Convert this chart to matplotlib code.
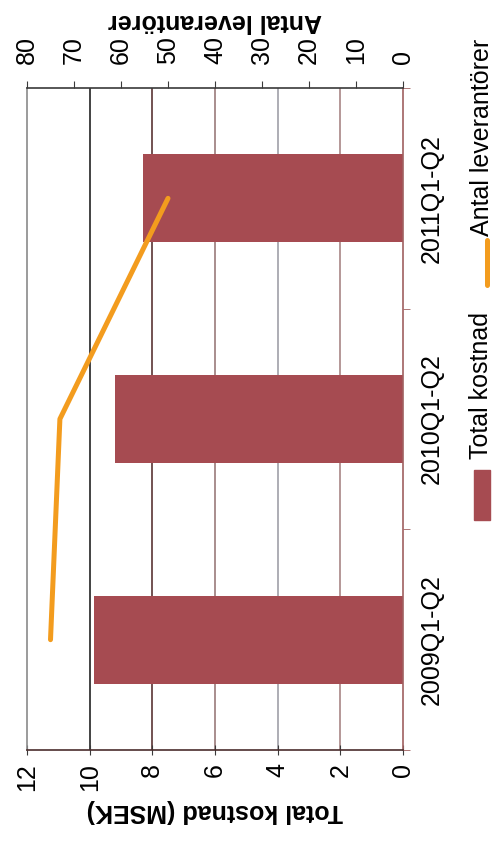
import matplotlib
matplotlib.use('Agg')
import matplotlib.pyplot as plt
from matplotlib.patches import Rectangle
from matplotlib.lines import Line2D

# Data
perioder = ['2009Q1-Q2', '2010Q1-Q2', '2011Q1-Q2']
total_kostnad = [9.85, 9.2, 8.3]          # MSEK
antal_leverantorer = [75, 73, 50]
kostnad_ticks = [0, 2, 4, 6, 8, 10, 12]
leverantor_ticks = [0, 10, 20, 30, 40, 50, 60, 70, 80]

plt.rcParams['font.family'] = ['Liberation Sans', 'DejaVu Sans']

BAR_COLOR = '#a64b51'
LINE_COLOR = '#f39c1e'

W, H = 495, 847
fig = plt.figure(figsize=(W / 100, H / 100), dpi=100)
fig.patch.set_facecolor('white')

# Chart turned on its side: cost runs right-to-left, periods bottom-to-top
ax = fig.add_axes([27 / W, (H - 750) / H, (403 - 27) / W, (750 - 88) / H])
pos = list(range(len(perioder)))
ax.barh(pos, total_kostnad, height=0.4, color=BAR_COLOR, zorder=2)

ax.set_xlim(12, 0)
ax.set_ylim(-0.5, 2.5)
ax.set_xticks(kostnad_ticks)
ax.set_xticklabels([str(t) for t in kostnad_ticks], rotation=90, fontsize=18)
ax.tick_params(axis='x', direction='inout', length=7, pad=6, color='#3a3a3a')

ax.yaxis.tick_right()
ax.set_yticks(pos)
ax.set_yticklabels(perioder, rotation=90, va='center', fontsize=18)
ax.set_yticks([-0.5, 0.5, 1.5, 2.5], minor=True)
ax.tick_params(axis='y', which='major', length=0, pad=12)
ax.tick_params(axis='y', which='minor', length=5, direction='out', color='#a06060')

ax.set_xlabel('Total kostnad (MSEK)', rotation=180, fontsize=18,
              fontweight='bold', labelpad=6)

# Vertical gridlines
ax.grid(axis='x', linewidth=1.2, zorder=1)
grid_colors = ['none', '#a88585', '#a0a0a8', '#9a7a7a', '#5a3535', '#222222', 'none']
for gl, c in zip(ax.get_xgridlines(), grid_colors):
    gl.set_color(c)
ax.set_axisbelow(True)

ax.spines['left'].set_color('#8a8a8a')
ax.spines['bottom'].set_color('#4a2c2c')
ax.spines['right'].set_color('#a06060')
ax.spines['top'].set_visible(False)
for s in ax.spines.values():
    s.set_linewidth(1.2)

# Secondary axis for number of suppliers
ax2 = ax.twiny()
ax2.plot(antal_leverantorer, pos, color=LINE_COLOR, lw=3.6,
         solid_capstyle='round', zorder=3)
ax2.set_xlim(80, 0)
ax2.set_xticks(leverantor_ticks)
ax2.set_xticklabels([str(t) for t in leverantor_ticks], rotation=90, fontsize=18)
ax2.tick_params(axis='x', direction='out', length=5, pad=12, color='#3a3a3a')
ax2.set_xlabel('Antal leverantörer', rotation=180, fontsize=18,
               fontweight='bold', labelpad=6)
for side in ('left', 'right', 'bottom'):
    ax2.spines[side].set_visible(False)
ax2.spines['top'].set_color('#3a3a3a')
ax2.spines['top'].set_linewidth(1.2)

# Legend, laid out along the right edge
def fx(px):
    return px / W

def fy(py):
    return (H - py) / H

fig.patches.append(Rectangle((fx(474), fy(520)), fx(16), 50 / H,
                             transform=fig.transFigure, color=BAR_COLOR))
fig.text(fx(481), fy(385), 'Total kostnad', rotation=90, fontsize=18,
         ha='center', va='center')
fig.lines.append(Line2D([fx(487), fx(487)], [fy(285), fy(240)],
                        transform=fig.transFigure, color=LINE_COLOR, lw=3.6,
                        solid_capstyle='round'))
fig.text(fx(482), fy(137), 'Antal leverantörer', rotation=90, fontsize=18,
         ha='center', va='center')

fig.savefig('out.png', dpi=100)
